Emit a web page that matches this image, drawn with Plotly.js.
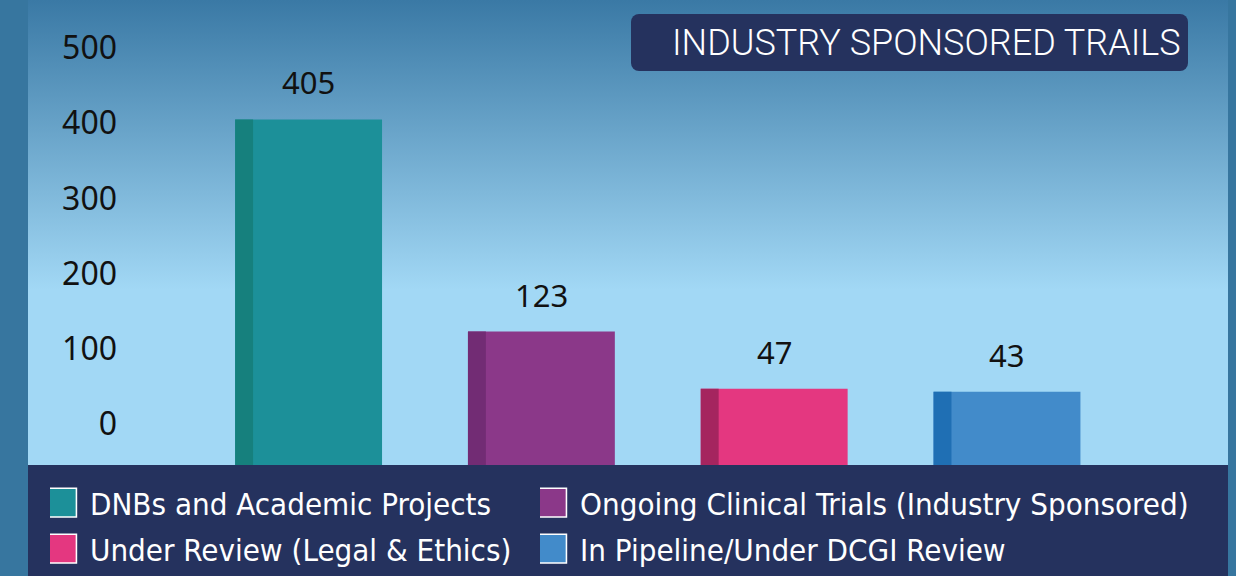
<!DOCTYPE html>
<html>
<head>
<meta charset="utf-8">
<script src="https://cdn.plot.ly/plotly-3.0.1.min.js"></script>
<style>
  html, body { margin:0; padding:0; }
  body { width:1236px; height:576px; background:#37769f; overflow:hidden; position:relative; }
  #bg { position:absolute; left:28px; top:0; width:1200px; height:465px;
        background: linear-gradient(to bottom, #3a79a5 0px, #a2d8f5 290px, #a2d8f5 465px); }
  #legendbox { position:absolute; left:28px; top:465px; width:1200px; height:111px; background:#25325e; }
  #titlebox { position:absolute; left:631px; top:14px; width:557px; height:57px; background:#25325e; border-radius:8px; }
  #chart { position:absolute; left:0; top:0; width:1236px; height:576px; }
</style>
</head>
<body>
<div id="bg"></div>
<div id="legendbox"></div>
<div id="titlebox"></div>
<div id="chart"></div>
<script>
// ---- data ----
const categories = [
  "DNBs and Academic Projects",
  "Ongoing Clinical Trials (Industry Sponsored)",
  "Under Review (Legal & Ethics)",
  "In Pipeline/Under DCGI Review"
];
const values = [405, 123, 47, 43];
const yTicks = [0, 100, 200, 300, 400, 500];
const chartTitle = "INDUSTRY SPONSORED TRAILS";

// ---- styles ----
const barColors   = ["#1c9099", "#8b3889", "#e43780", "#428bca"];
const stripColors = ["#16807d", "#722c74", "#a5255f", "#1f6fb4"];
const barBase = -54.5;
const yRange = [-54.5, 563.8];
const xRange = [-0.8187, 3.9837];
const barWidth = 0.631;
const stripWidth = 0.077;
const condensed = "'DejaVu Sans Condensed', 'DejaVu Sans', sans-serif";
const legendIds = ['legend', 'legend2', 'legend3', 'legend4'];
const legendX = [-0.0608, 0.3775, -0.0608, 0.3775];
const legendY = [-0.0817, -0.0817, -0.1806, -0.1806];

const traces = [];
categories.forEach((c, i) => {
  traces.push({
    type: 'bar', name: c, x: [c], y: [values[i] - barBase], base: barBase,
    width: barWidth, marker: { color: barColors[i] },
    legend: legendIds[i], hoverinfo: 'name'
  });
});
categories.forEach((c, i) => {
  traces.push({
    type: 'bar', name: c, x: [c], y: [values[i] - barBase], base: barBase,
    width: stripWidth, offset: -barWidth / 2, marker: { color: stripColors[i] },
    showlegend: false, hoverinfo: 'skip'
  });
});

const annotations = categories.map((c, i) => ({
  x: c, y: values[i], xref: 'x', yref: 'y', text: String(values[i]),
  showarrow: false, yanchor: 'bottom', yshift: 14,
  font: { family: "'Noto Sans', sans-serif", size: 31, color: '#111' }
}));
annotations.push({
  xref: 'paper', yref: 'paper', x: 0.9526, y: 0.9075, xanchor: 'right', yanchor: 'middle',
  text: chartTitle, showarrow: false,
  font: { family: "Roboto, sans-serif", size: 36, color: '#ffffff', weight: 300 }
});

const layout = {
  width: 1236, height: 576,
  margin: { l: 118, r: 0, t: 0, b: 111 },
  paper_bgcolor: 'rgba(0,0,0,0)', plot_bgcolor: 'rgba(0,0,0,0)',
  barmode: 'overlay', showlegend: true,
  xaxis: { type: 'category', categoryorder: 'array', categoryarray: categories,
           range: xRange, showticklabels: false, showgrid: false, zeroline: false, showline: false, ticks: '' },
  yaxis: { range: yRange, tickvals: yTicks, showgrid: false, zeroline: false, showline: false, ticks: '',
           tickfont: { family: "'Noto Sans', sans-serif", size: 32, color: '#111' } },
  annotations: annotations
};
legendIds.forEach((id, i) => {
  layout[id] = {
    orientation: 'h', xanchor: 'left', yanchor: 'middle', x: legendX[i], y: legendY[i],
    bgcolor: 'rgba(0,0,0,0)',
    font: { family: condensed, size: 31, color: '#ffffff' }
  };
});

Plotly.newPlot('chart', traces, layout, { staticPlot: true, displayModeBar: false }).then(() => {
  document.querySelectorAll('#chart .legendpoints path').forEach(p => {
    p.setAttribute('transform', 'translate(12,0) scale(2.4)');
    p.style.stroke = '#ffffff';
    p.style.strokeWidth = '0.65px';
  });
});
</script>
</body>
</html>
